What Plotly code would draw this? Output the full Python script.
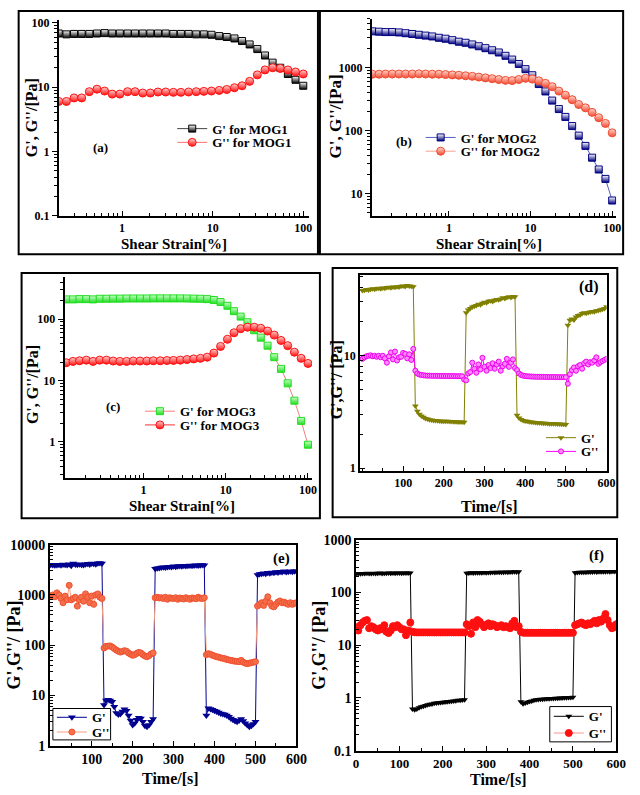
import plotly.graph_objects as go

W, H = 640, 795
FONT = "Liberation Serif"


def px(x):
    return x / W


def py(y):
    return 1 - y / H


# ---------------- data ----------------
strain_a = [0.2, 0.243, 0.295, 0.358, 0.435, 0.528, 0.641, 0.778, 0.945, 1.15, 1.39, 1.69, 2.05,
            2.49, 3.03, 3.68, 4.46, 5.42, 6.58, 7.99, 9.7, 11.8, 14.3, 17.4, 21.1, 25.6, 31.1,
            37.8, 45.9, 55.7, 67.6, 82.1, 100]
a_G1 = [68, 66, 67, 67, 67, 68, 69, 68, 68, 68, 68, 68, 68, 68, 68, 67, 67, 67, 66, 66, 65, 62,
        60, 57, 52, 46, 39, 31, 24, 20, 16, 13, 10.5]
a_G2 = [6.0, 6.0, 6.8, 6.8, 8.5, 9.3, 8.7, 7.8, 7.8, 8.5, 8.5, 8.1, 8.1, 8.4, 8.4, 8.3, 8.3, 8.4,
        8.5, 8.6, 8.7, 8.9, 9.2, 9.8, 10.5, 12.3, 15.5, 18.5, 20.0, 19.5, 18.5, 17.2, 16.0]

strain_b = [0.115, 0.139, 0.167, 0.202, 0.244, 0.294, 0.355, 0.428, 0.517, 0.624, 0.753, 0.908,
            1.10, 1.32, 1.60, 1.93, 2.32, 2.80, 3.38, 4.08, 4.93, 5.95, 7.18, 8.66, 10.5, 12.6,
            15.2, 18.4, 22.2, 26.7, 32.3, 38.9, 47.0, 56.7, 68.4, 82.6, 100]
b_G1 = [3800, 3750, 3700, 3700, 3650, 3550, 3450, 3350, 3250, 3150, 3000, 2900, 2750, 2600, 2500,
        2350, 2200, 2050, 1900, 1750, 1550, 1350, 1150, 950, 760, 550, 420, 300, 220, 165, 118,
        83, 57, 37, 24, 17, 7.7]
b_G2 = [790, 790, 795, 795, 795, 795, 795, 800, 795, 790, 790, 780, 770, 760, 745, 730, 710, 690,
        670, 650, 630, 625, 650, 680, 660, 620, 565, 500, 425, 365, 310, 260, 230, 195, 160, 130, 92]

strain_c = [0.115, 0.139, 0.167, 0.202, 0.244, 0.294, 0.355, 0.428, 0.517, 0.624, 0.753, 0.908,
            1.10, 1.32, 1.60, 1.93, 2.32, 2.80, 3.38, 4.08, 4.93, 5.95, 7.18, 8.66, 10.5, 12.6,
            15.2, 18.4, 22.2, 26.7, 32.3, 38.9, 47.0, 56.7, 68.4, 82.6, 100]
c_G1 = [210, 210, 212, 212, 210, 215, 215, 216, 216, 217, 217, 217, 217, 218, 218, 218, 218, 218,
        217, 216, 215, 212, 205, 190, 165, 135, 110, 89, 66, 50, 37, 24, 15.5, 9.0, 4.7, 2.2, 0.9]
c_G2 = [19.5, 20.5, 21.0, 21.5, 20.5, 21.5, 21.5, 20.8, 20.5, 20.5, 20.8, 20.8, 20.8, 21.0, 21.0,
        21.2, 21.3, 21.5, 22.0, 22.5, 23.0, 24.0, 28.0, 36.0, 47.0, 60.0, 70.0, 74.0, 74.0, 71.0,
        64.0, 55.0, 45.0, 37.0, 29.0, 23.0, 19.0]

time_s = [0, 5, 10, 15, 20, 25, 30, 35, 40, 45, 50, 55, 60, 65, 70, 75, 80, 85, 90, 95, 100, 105,
          110, 115, 120, 125, 130, 135, 140, 145, 150, 155, 160, 165, 170, 175, 180, 185, 190, 195,
          200, 205, 210, 215, 220, 225, 230, 235, 240, 245, 250, 255, 260, 265, 270, 275, 280, 285,
          290, 295, 300, 305, 310, 315, 320, 325, 330, 335, 340, 345, 350, 355, 360, 365, 370, 375,
          380, 385, 390, 395, 400, 405, 410, 415, 420, 425, 430, 435, 440, 445, 450, 455, 460, 465,
          470, 475, 480, 485, 490, 495, 500, 505, 510, 515, 520, 525, 530, 535, 540, 545, 550, 555,
          560, 565, 570, 575, 580, 585, 590, 595, 600]

d_G1 = [37.5, 37.8, 38.2, 37.9, 38.5, 38.8, 38.4, 39.0, 39.2, 38.9, 39.5, 39.3, 39.8, 40.1, 39.7,
        40.3, 40.0, 40.6, 40.4, 40.9, 41.2, 40.8, 41.5, 41.1, 41.0, 40.6,
        3.55, 3.2, 3.0, 2.9, 2.82, 2.76, 2.72, 2.69, 2.67, 2.65, 2.64, 2.63, 2.62, 2.61, 2.61,
        2.6, 2.6, 2.59, 2.59, 2.58, 2.58, 2.57, 2.57, 2.56, 2.55,
        23.8, 25.2, 26.0, 26.8, 27.2, 27.6, 28.3, 28.0, 28.9, 29.5, 29.2, 30.1, 30.4, 30.0, 30.8,
        31.2, 31.0, 31.6, 32.3, 31.8, 32.5, 33.0, 32.6, 33.2, 33.0,
        2.95, 2.78, 2.7, 2.65, 2.62, 2.6, 2.58, 2.56, 2.55, 2.54, 2.53, 2.52, 2.51, 2.5, 2.5,
        2.49, 2.48, 2.48, 2.47, 2.47, 2.46, 2.46, 2.45, 2.45, 2.44,
        18.5, 20.5, 21.0, 20.6, 21.8, 22.5, 22.8, 23.5, 23.8, 23.6, 24.0, 24.2, 24.5, 24.3, 24.8,
        25.0, 25.3, 25.6, 26.0, 27.0]
d_G2 = [9.3, 9.6, 9.8, 9.9, 10.0, 9.8, 9.9, 9.7, 9.9, 9.6, 9.9, 9.4, 8.6, 9.8, 10.6, 9.2, 10.8,
        9.0, 9.6, 9.7, 10.5, 10.3, 9.4, 10.2, 9.1, 11.4,
        7.3, 6.9, 6.75, 6.7, 6.65, 6.62, 6.6, 6.6, 6.58, 6.58, 6.57, 6.57, 6.56, 6.56, 6.55,
        6.55, 6.55, 6.54, 6.54, 6.54, 6.53, 6.53, 6.53, 6.52, 6.1,
        6.0, 6.9, 7.1, 8.6, 7.6, 7.0, 8.3, 7.5, 9.5, 7.9, 7.3, 8.2, 7.7, 8.5, 7.6, 8.3, 8.8, 7.3,
        8.0, 8.4, 9.3, 7.9, 8.6, 9.2, 7.7,
        7.4, 6.9, 6.7, 6.6, 6.55, 6.52, 6.5, 6.48, 6.47, 6.46, 6.45, 6.45, 6.44, 6.44, 6.43,
        6.43, 6.42, 6.42, 6.42, 6.41, 6.41, 6.4, 6.4, 6.4, 6.4,
        5.6, 6.8, 7.4, 7.8, 7.3, 8.0, 8.2, 7.6, 8.5, 8.8, 8.3, 8.7, 8.6, 9.0, 9.6, 8.4, 8.7, 8.9,
        9.1, 9.3]

e_G1 = [4000, 3950, 3900, 3950, 4000, 3900, 4050, 4000, 3950, 4100, 3800, 4200, 4050, 4000, 4100,
        4000, 3950, 4100, 4150, 4050, 4200, 4150, 4100, 4250, 4300, 4200,
        6.5, 8.0, 8.2, 8.0, 7.5, 6.0, 4.5, 4.2, 4.3, 4.8, 5.3, 5.0, 4.0, 3.2, 2.6, 2.8, 3.3, 3.6,
        3.5, 3.0, 2.5, 2.4, 2.6, 3.0, 3.4,
        3300, 3400, 3450, 3500, 3550, 3500, 3600, 3650, 3600, 3700, 3650, 3700, 3750, 3700, 3800,
        3750, 3800, 3850, 3800, 3850, 3900, 3850, 3900, 3950, 3900,
        4.0, 5.6, 5.4, 5.2, 5.0, 4.8, 4.6, 4.4, 4.3, 4.2, 4.0, 3.8, 3.5, 3.3, 3.1, 3.0, 3.2, 3.4,
        3.1, 2.8, 2.6, 2.4, 2.5, 2.7, 3.0,
        2500, 2600, 2650, 2700, 2650, 2750, 2700, 2800, 2750, 2850, 2800, 2900, 2850, 2950, 2850,
        2900, 2950, 2900, 2950, 2950]
e_G2 = [950, 1000, 920, 1100, 1000, 850, 700, 950, 800, 1550, 800, 850, 900, 600, 800, 900, 750,
        1050, 900, 700, 950, 650, 1000, 1050, 900, 850,
        88, 95, 96, 97, 92, 86, 80, 76, 73, 75, 78, 76, 70, 66, 63, 65, 69, 72, 70, 65, 61, 59,
        62, 67, 70,
        880, 900, 870, 880, 850, 900, 820, 880, 860, 850, 880, 820, 870, 850, 830, 880, 850, 820,
        870, 860, 840, 900, 860, 850, 880,
        65, 68, 66, 63, 61, 59, 58, 56, 55, 54, 52, 51, 50, 49, 48, 48, 47, 50, 46, 44, 43, 44,
        45, 46, 47,
        600, 650, 700, 620, 750, 920, 700, 600, 580, 650, 720, 760, 700, 720, 680, 650, 700, 650,
        680, 700]

f_G1 = [225, 228, 226, 230, 229, 231, 228, 230, 232, 229, 231, 233, 230, 232, 231, 233, 232, 234,
        231, 233, 235, 232, 234, 233, 235, 234,
        0.62, 0.60, 0.62, 0.65, 0.68, 0.70, 0.72, 0.74, 0.76, 0.77, 0.79, 0.80, 0.81, 0.82, 0.83,
        0.84, 0.85, 0.86, 0.87, 0.88, 0.89, 0.90, 0.90, 0.91, 0.92,
        232, 234, 236, 235, 237, 236, 238, 237, 239, 238, 240, 239, 241, 240, 242, 241, 243, 242,
        244, 243, 245, 244, 246, 245, 246,
        0.85, 0.78, 0.80, 0.83, 0.86, 0.88, 0.90, 0.92, 0.93, 0.94, 0.95, 0.96, 0.97, 0.97, 0.98,
        0.98, 0.99, 0.99, 1.00, 1.00, 1.01, 1.01, 1.02, 1.02, 1.03,
        238, 240, 242, 241, 243, 242, 244, 245, 244, 246, 245, 247, 246, 248, 247, 249, 248, 250,
        249, 251]
f_G2 = [22, 19, 24, 27, 29, 30, 21, 23, 22, 20, 19, 21, 20, 24, 18, 17, 19, 23, 22, 24, 22, 20,
        20, 15.5, 19, 27,
        18.0, 17.6, 17.5, 17.5, 17.5, 17.5, 17.5, 17.5, 17.5, 17.5, 17.5, 17.5, 17.5, 17.5, 17.5,
        17.5, 17.5, 17.5, 17.5, 17.5, 17.5, 17.5, 17.5, 17.5, 17.5,
        25, 23, 16.5, 27, 22, 30, 28, 25, 22, 24, 26, 23, 25, 24, 22, 23, 24, 22, 23, 22, 21, 26,
        29, 22, 23,
        18.0, 17.3, 17.2, 17.2, 17.2, 17.2, 17.2, 17.2, 17.2, 17.2, 17.2, 17.2, 17.2, 17.2, 17.2,
        17.2, 17.2, 17.2, 17.2, 17.2, 17.2, 17.2, 17.2, 17.2, 17.2,
        24, 25, 26, 27, 25, 24, 26, 25, 27, 29, 26, 30, 28, 32, 39, 30, 24, 21, 22, 25]

# ---------------- figure ----------------
fig = go.Figure()


def add(x, y, name, ax, legend, line_color, marker):
    fig.add_trace(go.Scatter(
        x=x[:len(y)], y=y, name=name, mode="lines+markers",
        xaxis="x" + ax, yaxis="y" + ax, legend=legend,
        line=dict(color=line_color, width=1), marker=marker))


def half(symbol, color, size, fill="white"):
    return dict(symbol=symbol, size=size, color=fill,
                line=dict(color=color, width=1),
                gradient=dict(type="vertical", color=color))


add(strain_a, a_G1, "G' for MOG1", "", "legend", "#444444", half("square", "black", 7))
add(strain_a, a_G2, "G'' for MOG1", "", "legend2", "#ff7070", half("circle", "#ff1010", 8, "#ffd0d0"))
add(strain_b, b_G1, "G' for MOG2", "2", "legend3", "#5060c0", half("square", "#000080", 7))
add(strain_b, b_G2, "G'' for MOG2", "2", "legend4", "#f8a090", half("circle", "#f04a30", 8, "#ffd8d0"))
add(strain_c, c_G1, "G' for MOG3", "3", "legend5", "#f08080", half("square", "#22dd22", 7, "#c8ffc8"))
add(strain_c, c_G2, "G'' for MOG3", "3", "legend6", "#ff3030", half("circle", "#ff1010", 8, "#ffd0d0"))

add(time_s, d_G1, "G'", "4", "legend7", "#808000",
    dict(symbol="triangle-down", size=6, color="#808000"))
add(time_s, d_G2, "G''", "4", "legend8", "#ff00ff",
    dict(symbol="circle", size=5, color="#ff88ff", line=dict(color="#ee00ee", width=1)))
add(time_s, e_G1, "G'", "5", "legend9", "#000090",
    dict(symbol="triangle-down", size=7, color="#000090"))
add(time_s, e_G2, "G''", "5", "legend10", "#f8a080",
    dict(symbol="circle", size=6, color="#f4704a", line=dict(color="#f05030", width=1)))
add(time_s, f_G1, "G'", "6", "legend11", "#000000",
    dict(symbol="triangle-down", size=6, color="#000000"))
add(time_s, f_G2, "G''", "6", "legend12", "#ff9090",
    dict(symbol="circle", size=7, color="#ff1010", line=dict(color="#ff1010", width=1)))


def axis(x0, x1, rng, typ, vals, text, anchor, ticks, mirror, fsize, horizontal, minor_dt):
    d = dict(range=rng, type=typ, tickmode="array", tickvals=vals, ticktext=text,
             anchor=anchor, ticks=ticks, ticklen=5, tickwidth=1.2, tickcolor="black",
             showline=True, linecolor="black", linewidth=1.8, mirror=mirror,
             showgrid=False, zeroline=False,
             tickfont=dict(family=FONT, size=fsize, color="black", weight="bold"),
             minor=dict(ticks=ticks, ticklen=3, tickwidth=1, tickcolor="black",
                        dtick=minor_dt, showgrid=False))
    if horizontal:
        d["domain"] = [px(x0), px(x1)]
    else:
        d["domain"] = [py(x1), py(x0)]
    return d


LOGT = ["0.1", "1", "10", "100", "1000", "10000"]
LOGV = [0.1, 1, 10, 100, 1000, 10000]
TV = [0, 100, 200, 300, 400, 500, 600]
TT = [str(v) for v in TV]

layout = dict(
    width=W, height=H, margin=dict(l=0, r=0, t=0, b=0),
    paper_bgcolor="white", plot_bgcolor="white",
    font=dict(family=FONT, color="black", weight="bold"),
    showlegend=True,
    xaxis=axis(57, 313, [-0.699, 2.065], "log", [1, 10, 100], ["1", "10", "100"], "y",
               "inside", False, 12, True, "D1"),
    yaxis=axis(13, 213, [-1, 2.046], "log", LOGV, LOGT, "x", "outside", False, 12, False, "D1"),
    xaxis2=axis(377, 627, [-0.946, 2.05], "log", [1, 10, 100], ["1", "10", "100"], "y2",
                "inside", False, 12, True, "D1"),
    yaxis2=axis(12, 213, [0.64, 3.78], "log", LOGV, LOGT, "x2", "outside", False, 12, False, "D1"),
    xaxis3=axis(63, 316, [-0.958, 2.05], "log", [1, 10, 100], ["1", "10", "100"], "y3",
                "inside", False, 12, True, "D1"),
    yaxis3=axis(275, 480, [-0.587, 2.69], "log", LOGV, LOGT, "x3", "outside", False, 12, False,
                "D1"),
    xaxis4=axis(365, 617, [-6, 600], "linear", TV[1:], TT[1:], "y4", "inside", True, 12, True, 50),
    yaxis4=axis(273, 473, [-0.026, 1.713], "log", LOGV, LOGT, "x4", "inside", True, 12, False,
                "D1"),
    xaxis5=axis(48, 300, [-2, 600], "linear", TV[1:], TT[1:], "y5", "inside", True, 14, True, 50),
    yaxis5=axis(548, 753, [0, 4], "log", LOGV, LOGT, "x5", "inside", True, 14, False, "D1"),
    xaxis6=axis(361, 627, [0, 600], "linear", TV, TT, "y6", "inside", True, 13, True, 50),
    yaxis6=axis(543, 758, [-1, 3], "log", LOGV, LOGT, "x6", "inside", True, 14, False, "D1"),
)


def leg(text_x, yc, size):
    return dict(x=px(text_x - 40), y=py(yc), xanchor="left", yanchor="middle",
                bgcolor="rgba(0,0,0,0)", borderwidth=0, itemwidth=30,
                font=dict(family=FONT, size=size, color="black", weight="bold"))


layout["legend"] = leg(213, 124, 13)
layout["legend2"] = leg(213, 138, 13)
layout["legend3"] = leg(467, 133, 13)
layout["legend4"] = leg(467, 147, 13)
layout["legend5"] = leg(180, 412, 13)
layout["legend6"] = leg(180, 426, 13)
layout["legend7"] = leg(590, 439, 13)
layout["legend8"] = leg(590, 453, 13)
layout["legend9"] = leg(90, 724, 13)
layout["legend10"] = leg(90, 739, 13)
layout["legend11"] = leg(598, 723, 13)
layout["legend12"] = leg(598, 740, 13)

shapes = []
for (x0, y0, x1, y1) in [(16, 4, 322, 252), (324, 4, 634, 252), (19, 271, 324, 521),
                         (337, 266, 628, 520)]:
    shapes.append(dict(type="rect", xref="paper", yref="paper", x0=px(x0), x1=px(x1),
                       y0=py(y1), y1=py(y0), line=dict(color="black", width=2)))
for (x0, y0, x1, y1) in [(51, 715, 110, 747), (559, 713, 622, 749)]:
    shapes.append(dict(type="rect", xref="paper", yref="paper", x0=px(x0), x1=px(x1),
                       y0=py(y1), y1=py(y0), line=dict(color="black", width=1)))
layout["shapes"] = shapes


def note(text, x, y, size, angle=0):
    return dict(text=text, x=px(x), y=py(y), xref="paper", yref="paper", showarrow=False,
                xanchor="center", yanchor="middle", textangle=angle,
                font=dict(family=FONT, size=size, color="black", weight="bold"))


layout["annotations"] = [
    note("(a)", 100, 143, 13), note("(b)", 410, 137, 13), note("(c)", 112, 407, 13),
    note("(d)", 599, 285, 16), note("(e)", 285, 562, 15), note("(f)", 607, 559, 15),
    note("Shear Strain[%]", 175, 242, 15), note("G', G''/[Pa]", 30, 113, 16, -90),
    note("Shear Strain[%]", 497, 242, 15), note("G', G''/[Pa]", 340, 112, 17, -90),
    note("Shear Strain[%]", 183, 509, 15), note("G', G''/[Pa]", 30, 385, 16, -90),
    note("Time/[s]", 497, 509, 16), note("G',G''/ [Pa]", 341, 380, 16, -90),
    note("Time/[s]", 171, 786, 16), note("G',G''/ [Pa]", 11, 650, 18, -90),
    note("Time/[s]", 507, 787, 16), note("G',G''/ [Pa]", 323, 650, 18, -90),
]

fig.update_layout(layout)
fig.write_html("out.html")
